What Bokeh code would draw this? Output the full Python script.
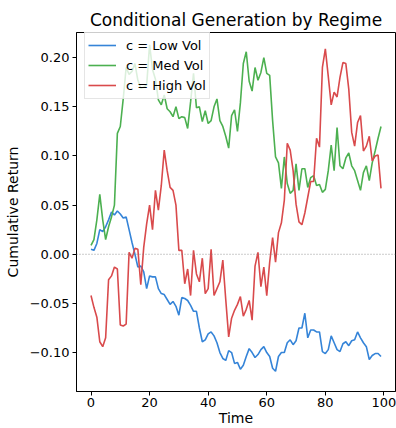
from bokeh.plotting import figure
from bokeh.models import Range1d, FixedTicker, Span, Legend, LegendItem, CustomJSTickFormatter
from bokeh.embed import file_html
from bokeh.resources import INLINE

time = list(range(100))

low_vol = [0.005, 0.004, 0.011, 0.025, 0.023, 0.028, 0.035, 0.043, 0.040, 0.044,
           0.041, 0.037, 0.038, 0.025, 0.012, 0.000, -0.013, -0.012, -0.018, -0.035,
           -0.022, -0.023, -0.023, -0.035, -0.040, -0.041, -0.046, -0.051, -0.048, -0.053,
           -0.062, -0.044, -0.045, -0.047, -0.052, -0.058, -0.058, -0.075, -0.089, -0.087,
           -0.081, -0.079, -0.083, -0.090, -0.100, -0.106, -0.108, -0.098, -0.100, -0.111,
           -0.110, -0.117, -0.113, -0.104, -0.096, -0.100, -0.105, -0.102, -0.097, -0.094,
           -0.100, -0.104, -0.116, -0.119, -0.104, -0.100, -0.100, -0.090, -0.087, -0.092,
           -0.088, -0.075, -0.075, -0.060, -0.085, -0.077, -0.077, -0.079, -0.079, -0.099,
           -0.101, -0.097, -0.083, -0.090, -0.097, -0.099, -0.091, -0.089, -0.093, -0.088,
           -0.087, -0.079, -0.085, -0.090, -0.094, -0.107, -0.103, -0.101, -0.101, -0.104]

med_vol = [0.009, 0.015, 0.035, 0.061, 0.035, 0.015, 0.028, 0.038, 0.050, 0.123,
           0.130, 0.158, 0.190, 0.183, 0.186, 0.194, 0.177, 0.169, 0.170, 0.172,
           0.213, 0.188, 0.178, 0.157, 0.152, 0.162, 0.148, 0.145, 0.140, 0.150,
           0.138, 0.140, 0.139, 0.128, 0.155, 0.184, 0.149, 0.150, 0.135, 0.146,
           0.133, 0.136, 0.150, 0.158, 0.136, 0.130, 0.120, 0.108, 0.141, 0.147,
           0.125, 0.154, 0.194, 0.206, 0.176, 0.166, 0.190, 0.177, 0.185, 0.200,
           0.184, 0.182, 0.136, 0.099, 0.093, 0.067, 0.099, 0.072, 0.062, 0.065,
           0.092, 0.065, 0.087, 0.087, 0.068, 0.078, 0.080, 0.070, 0.071, 0.063,
           0.066, 0.085, 0.111, 0.085, 0.129, 0.090, 0.087, 0.098, 0.103, 0.090,
           0.085, 0.075, 0.065, 0.083, 0.090, 0.075, 0.093, 0.105, 0.118, 0.130]

high_vol = [-0.042, -0.054, -0.064, -0.089, -0.094, -0.085, -0.026, -0.022, -0.013, -0.015,
            -0.072, -0.073, -0.071, 0.002, -0.004, 0.006, 0.005, -0.031, 0.007, 0.031,
            0.050, 0.025, 0.065, 0.045, 0.070, 0.106, 0.085, 0.068, 0.065, 0.050,
            0.004, 0.004, -0.030, -0.015, -0.042, 0.004, -0.020, -0.028, -0.004, -0.040,
            -0.035, 0.005, -0.042, -0.035, -0.028, -0.006, -0.046, -0.084, -0.065, -0.057,
            -0.051, -0.043, -0.063, -0.056, -0.047, -0.067, -0.012, 0.002, -0.033, -0.013,
            -0.042, -0.008, 0.017, -0.008, 0.022, 0.032, 0.055, 0.113, 0.106, 0.085,
            0.051, 0.033, 0.030, 0.042, 0.058, 0.074, 0.074, 0.118, 0.109, 0.190,
            0.209, 0.181, 0.152, 0.165, 0.160, 0.180, 0.195, 0.194, 0.168, 0.124,
            0.110, 0.134, 0.141, 0.105, 0.110, 0.120, 0.095, 0.100, 0.101, 0.067]

series = [
    ("c = Low Vol", low_vol, "#3584d8"),
    ("c = Med Vol", med_vol, "#4cb050"),
    ("c = High Vol", high_vol, "#d94a4c"),
]

x_ticks = [0, 20, 40, 60, 80, 100]
y_ticks = [-0.10, -0.05, 0.00, 0.05, 0.10, 0.15, 0.20]
zero_level = 0.0
x_title = "Time"
y_title = "Cumulative Return"

FONT = "DejaVu Sans"

p = figure(width=396, height=428, output_backend="svg", toolbar_location=None,
           x_range=Range1d(-4.95, 103.95), y_range=Range1d(-0.1396, 0.2256),
           min_border_left=76, min_border_right=1, min_border_top=32, min_border_bottom=36,
           background_fill_color="white", border_fill_color="white")

p.title.text = "Conditional Generation by Regime"
p.title.text_font = FONT
p.title.text_font_size = "17px"
p.title.text_font_style = "normal"
p.title.text_color = "black"
p.title.align = "center"
p.title.standoff = 6

p.grid.visible = False
p.outline_line_color = "black"
p.outline_line_width = 1

for ax in (p.xaxis, p.yaxis):
    ax.major_label_text_font = FONT
    ax.major_label_text_font_size = "13px"
    ax.major_label_text_color = "black"
    ax.axis_label_text_font = FONT
    ax.axis_label_text_font_size = "14px"
    ax.axis_label_text_font_style = "normal"
    ax.axis_label_text_color = "black"
    ax.major_tick_out = 4
    ax.major_tick_in = 0
    ax.minor_tick_out = 0
    ax.minor_tick_in = 0
    ax.major_tick_line_color = "black"
    ax.axis_line_color = "black"
    ax.major_label_standoff = 3

p.xaxis.ticker = FixedTicker(ticks=x_ticks)
p.yaxis.ticker = FixedTicker(ticks=y_ticks)
p.yaxis.formatter = CustomJSTickFormatter(
    code="return (tick < -1e-9 ? '\u2212' : '') + Math.abs(tick).toFixed(2);")
p.yaxis.axis_label = y_title
p.yaxis.axis_label_standoff = 6
p.xaxis.axis_label = x_title
p.xaxis.axis_label_standoff = 0
p.xaxis.major_label_standoff = 2

zero = Span(location=zero_level, dimension="width", line_color="gray",
            line_width=0.9, line_dash="1 2", line_alpha=0.9)
p.add_layout(zero)

items = []
for label, vals, color in series:
    r = p.line(time, vals, line_color=color, line_width=1.6)
    items.append(LegendItem(label=label, renderers=[r]))

legend = Legend(items=items, location=(8, 292), margin=0,
                label_text_font=FONT, label_text_font_size="13px",
                label_text_color="black",
                glyph_width=28, glyph_height=20, label_height=20,
                label_standoff=10, spacing=0, padding=3,
                border_line_color="#cccccc", border_line_width=1,
                background_fill_color="white", background_fill_alpha=0.8)
p.add_layout(legend)

open("out.html", "w").write(file_html(p, INLINE))
